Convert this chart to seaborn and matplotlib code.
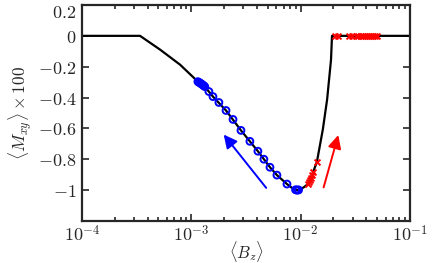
import numpy as np
import pandas as pd
import matplotlib
matplotlib.use("Agg")
import matplotlib.pyplot as plt
import matplotlib.ticker as mticker
import matplotlib.transforms as mtransforms
import seaborn as sns

# black curve
curve_b = [1e-4, 3.4e-4, 5.2e-4, 7.9e-4, 1.15e-3, 1.33e-3, 1.58e-3, 2.08e-3, 2.85e-3,
           4.07e-3, 5.25e-3, 6.08e-3, 7.51e-3, 8.5e-3, 9.3e-3, 1.0e-2, 1.08e-2, 1.17e-2,
           1.27e-2, 1.41e-2, 1.60e-2, 1.75e-2, 1.90e-2, 1.94e-2, 1e-1]
curve_m = [0, 0, -0.09, -0.187, -0.297, -0.329, -0.394, -0.484, -0.613,
           -0.748, -0.852, -0.903, -0.961, -0.99, -1.0, -0.995, -0.98, -0.961,
           -0.903, -0.819, -0.606, -0.413, -0.155, 0, 0]

# blue circles (decreasing field)
blue_b = [1.15e-3, 1.18e-3, 1.21e-3, 1.24e-3, 1.27e-3, 1.30e-3, 1.33e-3, 1.45e-3,
          1.58e-3, 1.79e-3, 2.08e-3, 2.41e-3, 2.85e-3, 3.44e-3, 4.07e-3, 4.62e-3,
          5.25e-3, 6.08e-3, 7.51e-3, 9.0e-3, 9.2e-3, 9.4e-3, 9.6e-3]
blue_m = [-0.297, -0.302, -0.307, -0.312, -0.318, -0.323, -0.329, -0.361,
          -0.394, -0.432, -0.484, -0.542, -0.613, -0.684, -0.748, -0.8,
          -0.852, -0.903, -0.961, -0.998, -1.0, -1.0, -0.999]

# red crosses (increasing field)
red_b = [0.0117, 0.0120, 0.0122, 0.0125, 0.0127, 0.0130, 0.0141,
         0.0206, 0.0220, 0.0277, 0.0295, 0.0321, 0.0334, 0.0356, 0.0372,
         0.0387, 0.0404, 0.0422, 0.0440, 0.0459, 0.0479, 0.0499]
red_m = [-0.961, -0.95, -0.935, -0.92, -0.903, -0.884, -0.819,
         0, 0, 0, 0, 0, 0, 0, 0,
         0, 0, 0, 0, 0, 0, 0]

sns.set_style("ticks")
plt.rcParams['mathtext.fontset'] = 'cm'
plt.rcParams['font.family'] = ['DejaVu Serif']

fig = plt.figure(figsize=(4.36, 2.63), dpi=100)
ax = fig.add_axes([0.188, 0.160, 0.752, 0.821])

sns.lineplot(x=curve_b, y=curve_m, ax=ax, color='black', linewidth=1.6,
             sort=False, estimator=None, zorder=2)
sns.scatterplot(x=blue_b, y=blue_m, ax=ax, marker='o', s=24, facecolors='none',
                edgecolor='blue', linewidth=1.4, zorder=3)
sns.scatterplot(x=red_b, y=red_m, ax=ax, marker='x', s=18, color='red',
                linewidth=1.4, zorder=3)

ax.annotate('', xy=(1.91e-3, -0.626), xytext=(5.03e-3, -1.0),
            arrowprops=dict(arrowstyle='-|>', color='blue', lw=1.4, mutation_scale=20))
ax.annotate('', xy=(2.25e-2, -0.626), xytext=(1.60e-2, -1.0),
            arrowprops=dict(arrowstyle='-|>', color='red', lw=1.4, mutation_scale=20))

ax.set_xscale('log')
ax.set_xlim(1e-4, 1e-1)
ax.set_ylim(-1.2, 0.2)

xt = [1e-4, 1e-3, 1e-2, 1e-1]
ax.xaxis.set_major_locator(mticker.FixedLocator(xt))
ax.xaxis.set_major_formatter(mticker.FixedFormatter([r'$10^{-4}$', r'$10^{-3}$', r'$10^{-2}$', r'$10^{-1}$']))
ax.xaxis.set_minor_locator(mticker.LogLocator(base=10, subs=np.arange(2, 10)))
ax.xaxis.set_minor_formatter(mticker.NullFormatter())

yt = [0.2, 0, -0.2, -0.4, -0.6, -0.8, -1]
ax.yaxis.set_major_locator(mticker.FixedLocator(yt))
ax.yaxis.set_major_formatter(mticker.FixedFormatter([r'$0.2$', r'$0$', r'$-0.2$', r'$-0.4$',
                                                     r'$-0.6$', r'$-0.8$', r'$-1$']))

ax.tick_params(which='both', direction='in', top=True, right=True, labelsize=13, width=1.2)
ax.tick_params(which='major', length=5, pad=4)
ax.tick_params(axis='x', which='major', pad=3)
ax.tick_params(which='minor', length=3)
for s in ax.spines.values():
    s.set_linewidth(1.6)

# top label sits a little lower so it stays inside the figure
shift = mtransforms.ScaledTranslation(0, -4 / 72, fig.dpi_scale_trans)
top_lab = ax.yaxis.get_major_ticks()[0].label1
top_lab.set_transform(top_lab.get_transform() + shift)

ax.set_xlabel(r'$\langle B_z\rangle$', fontsize=12)
ax.xaxis.set_label_coords(0.503, -0.085)
ax.set_ylabel(r'$\langle M_{xy}\rangle\times 100$', fontsize=12.5, labelpad=3)

fig.savefig('out.png', dpi=100)
